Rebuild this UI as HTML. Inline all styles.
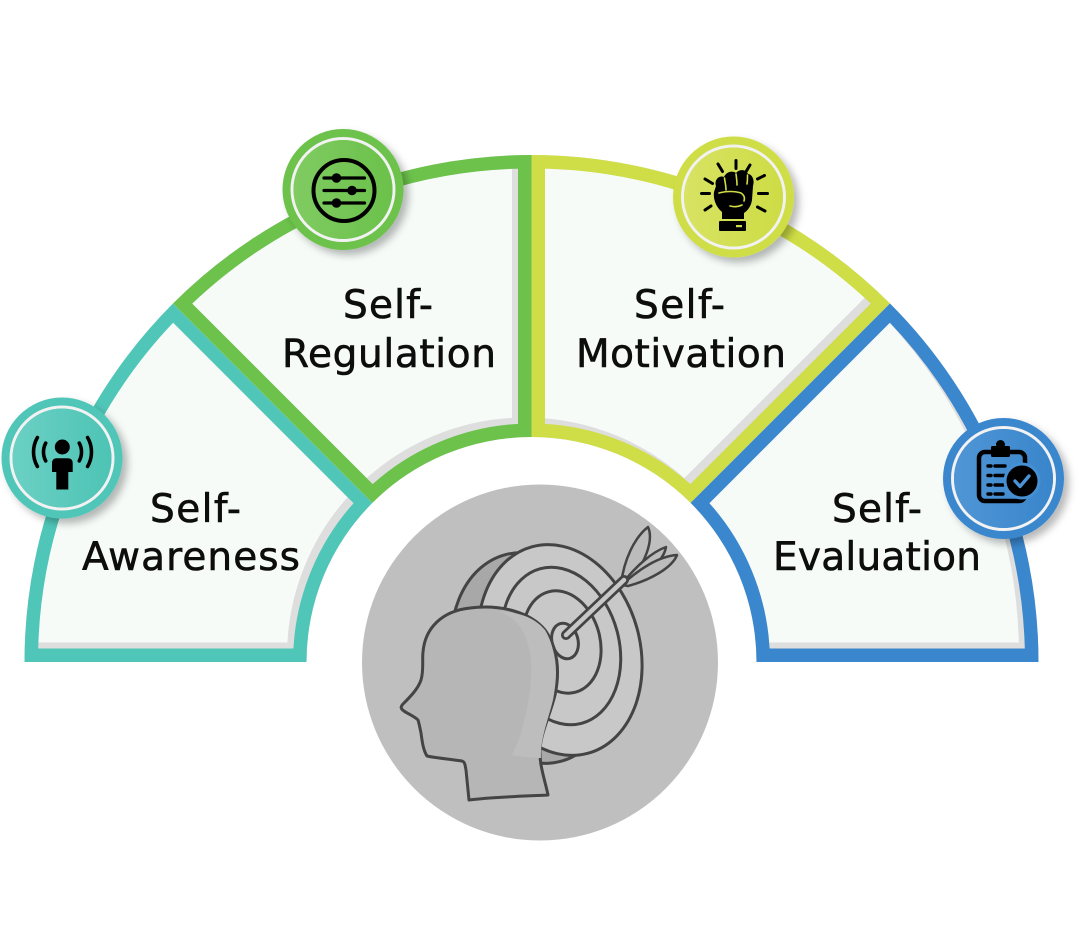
<!DOCTYPE html>
<html><head><meta charset="utf-8"><style>
html,body{margin:0;padding:0;background:#fff;}
svg{display:block}
text{font-family:"DejaVu Sans","Liberation Sans",sans-serif;fill:#0d0d0d;stroke:#0d0d0d;stroke-width:0.6px;}
</style></head><body>
<svg width="1080" height="934" viewBox="0 0 1080 934" xmlns="http://www.w3.org/2000/svg">
<defs>
 <clipPath id="c1"><path d="M 24.5 662 A 507 507 0 0 1 173 303.5 L 372.4 502.9 A 225 225 0 0 0 306.5 662 Z"/></clipPath>
 <clipPath id="c2"><path d="M 173 303.5 A 507 507 0 0 1 531.5 155 L 531.5 437 A 225 225 0 0 0 372.4 502.9 Z"/></clipPath>
 <clipPath id="c3"><path d="M 531.5 155 A 507 507 0 0 1 890 303.5 L 690.6 502.9 A 225 225 0 0 0 531.5 437 Z"/></clipPath>
 <clipPath id="c4"><path d="M 890 303.5 A 507 507 0 0 1 1038.5 662 L 756.5 662 A 225 225 0 0 0 690.6 502.9 Z"/></clipPath>
 <filter id="ds" x="-40%" y="-40%" width="180%" height="180%"><feDropShadow dx="5" dy="5" stdDeviation="4" flood-color="#000" flood-opacity="0.28"/></filter>
 <linearGradient id="gT" x1="0" x2="1"><stop offset="0" stop-color="#6bd0c4"/><stop offset="1" stop-color="#4dc4b5"/></linearGradient>
 <linearGradient id="gG" x1="0" x2="1"><stop offset="0" stop-color="#80cb62"/><stop offset="1" stop-color="#6bc14a"/></linearGradient>
 <linearGradient id="gY" x1="0" x2="1"><stop offset="0" stop-color="#d8e363"/><stop offset="1" stop-color="#cddc45"/></linearGradient>
 <linearGradient id="gB" x1="0" x2="1"><stop offset="0" stop-color="#5096d6"/><stop offset="1" stop-color="#3985cb"/></linearGradient>
</defs>

<!-- Segment 1 teal -->
<g clip-path="url(#c1)">
 <path d="M 24.5 662 A 507 507 0 0 1 173 303.5 L 372.4 502.9 A 225 225 0 0 0 306.5 662 Z" fill="#dedede"/>
 <path transform="translate(-6,-6)" d="M 24.5 662 A 507 507 0 0 1 173 303.5 L 372.4 502.9 A 225 225 0 0 0 306.5 662 Z" fill="#f6fbf8" stroke="#dedede" stroke-width="27"/>
 <path d="M 24.5 662 A 507 507 0 0 1 173 303.5 L 372.4 502.9 A 225 225 0 0 0 306.5 662 Z" fill="none" stroke="#4fc6b7" stroke-width="27"/>
</g>
<!-- Segment 2 green -->
<g clip-path="url(#c2)">
 <path d="M 173 303.5 A 507 507 0 0 1 531.5 155 L 531.5 437 A 225 225 0 0 0 372.4 502.9 Z" fill="#dedede"/>
 <path transform="translate(-6,-6)" d="M 173 303.5 A 507 507 0 0 1 531.5 155 L 531.5 437 A 225 225 0 0 0 372.4 502.9 Z" fill="#f6fbf8" stroke="#dedede" stroke-width="27"/>
 <path d="M 173 303.5 A 507 507 0 0 1 531.5 155 L 531.5 437 A 225 225 0 0 0 372.4 502.9 Z" fill="none" stroke="#6cc24b" stroke-width="27"/>
</g>
<!-- Segment 3 yellow-green -->
<g clip-path="url(#c3)">
 <path d="M 531.5 155 A 507 507 0 0 1 890 303.5 L 690.6 502.9 A 225 225 0 0 0 531.5 437 Z" fill="#dedede"/>
 <path transform="translate(-6,-6)" d="M 531.5 155 A 507 507 0 0 1 890 303.5 L 690.6 502.9 A 225 225 0 0 0 531.5 437 Z" fill="#f6fbf8" stroke="#dedede" stroke-width="27"/>
 <path d="M 531.5 155 A 507 507 0 0 1 890 303.5 L 690.6 502.9 A 225 225 0 0 0 531.5 437 Z" fill="none" stroke="#cfdd46" stroke-width="27"/>
</g>
<!-- Segment 4 blue -->
<g clip-path="url(#c4)">
 <path d="M 890 303.5 A 507 507 0 0 1 1038.5 662 L 756.5 662 A 225 225 0 0 0 690.6 502.9 Z" fill="#dedede"/>
 <path transform="translate(-6,-6)" d="M 890 303.5 A 507 507 0 0 1 1038.5 662 L 756.5 662 A 225 225 0 0 0 690.6 502.9 Z" fill="#f6fbf8" stroke="#dedede" stroke-width="27"/>
 <path d="M 890 303.5 A 507 507 0 0 1 1038.5 662 L 756.5 662 A 225 225 0 0 0 690.6 502.9 Z" fill="none" stroke="#3a87cd" stroke-width="27"/>
</g>

<!-- Labels -->
<text x="195.5" y="522" font-size="39" text-anchor="middle" textLength="91">Self-</text>
<text x="191" y="570" font-size="39" text-anchor="middle" textLength="218">Awareness</text>
<text x="388" y="318" font-size="39" text-anchor="middle" textLength="90">Self-</text>
<text x="389" y="367" font-size="39" text-anchor="middle" textLength="214">Regulation</text>
<text x="679.5" y="318" font-size="39" text-anchor="middle" textLength="91">Self-</text>
<text x="681" y="367" font-size="39" text-anchor="middle" textLength="210">Motivation</text>
<text x="877" y="522" font-size="39" text-anchor="middle" textLength="90">Self-</text>
<text x="877" y="570" font-size="39" text-anchor="middle" textLength="208">Evaluation</text>

<!-- Icon 1: teal -->
<g>
 <circle cx="62" cy="458" r="60.5" fill="#4fc6b7" filter="url(#ds)"/>
 <circle cx="62" cy="458" r="51" fill="none" stroke="#f2f2f2" stroke-width="3"/>
 <circle cx="62" cy="458" r="49.5" fill="url(#gT)"/>
 <circle cx="62.3" cy="447" r="7.5" fill="#000"/>
 <path d="M 52 463 Q 52 458.3 57 458.3 L 67.5 458.3 Q 72.7 458.3 72.7 463 L 72.7 472 L 68.3 472 L 68.3 489.5 L 56.3 489.5 L 56.3 472 L 52 472 Z" fill="#000"/>
 <g fill="none" stroke="#000" stroke-width="3.6" stroke-linecap="round">
  <path d="M 37.4 437.5 A 29 29 0 0 0 37.4 466.5"/>
  <path d="M 45.7 443.1 A 19 19 0 0 0 45.7 460.9"/>
  <path d="M 87.6 437.5 A 29 29 0 0 1 87.6 466.5"/>
  <path d="M 79.3 443.1 A 19 19 0 0 1 79.3 460.9"/>
 </g>
</g>

<!-- Icon 2: green sliders -->
<g>
 <circle cx="343" cy="189.5" r="60.5" fill="#6cc24b" filter="url(#ds)"/>
 <circle cx="343" cy="189.5" r="51" fill="none" stroke="#f2f2f2" stroke-width="3"/>
 <circle cx="343" cy="189.5" r="49.5" fill="url(#gG)"/>
 <circle cx="344" cy="190.5" r="30.5" fill="none" stroke="#000" stroke-width="4"/>
 <g stroke="#000" stroke-width="3.2" stroke-linecap="round">
  <line x1="324" y1="178" x2="364.5" y2="178"/>
  <line x1="324" y1="190.5" x2="364.5" y2="190.5"/>
  <line x1="324" y1="203" x2="364.5" y2="203"/>
 </g>
 <circle cx="336.5" cy="178" r="4.8" fill="#000"/>
 <circle cx="352" cy="190.5" r="4.8" fill="#000"/>
 <circle cx="336.5" cy="203" r="4.8" fill="#000"/>
</g>

<!-- Icon 3: yellow fist -->
<g>
 <circle cx="733.5" cy="197" r="60.5" fill="#cfdd46" filter="url(#ds)"/>
 <circle cx="733.5" cy="197" r="51" fill="none" stroke="#f2f2f2" stroke-width="3"/>
 <circle cx="733.5" cy="197" r="49.5" fill="url(#gY)"/>
 <g stroke="#000" stroke-width="3" stroke-linecap="round">
  <line x1="736" y1="160.5" x2="736" y2="168.5"/>
  <line x1="718" y1="164" x2="722.5" y2="171.5"/>
  <line x1="750" y1="165" x2="745.5" y2="172.5"/>
  <line x1="701.5" y1="193.5" x2="709.5" y2="193.5"/>
  <line x1="758.5" y1="193.5" x2="767.5" y2="193.5"/>
  <line x1="705" y1="179" x2="712.5" y2="183.5"/>
  <line x1="757.5" y1="179" x2="764.5" y2="175.5"/>
  <line x1="705" y1="210" x2="711" y2="206"/>
  <line x1="757.5" y1="207" x2="765" y2="211"/>
 </g>
 <path d="M 716 186 C 714 180, 719 175, 724 177 C 726 172, 732 170, 736 173 C 739 169, 746 169, 748 174 C 752 174, 755 180, 753 186 L 752 200 C 751 207, 747 211, 744 213 L 744 219 L 722 219 L 722 212 C 716 207, 713 199, 714 192 Z" fill="#000"/>
 <g fill="none" stroke="#cfdd46" stroke-width="1.6" stroke-linecap="round">
  <path d="M 724.5 178 C 725 182, 726 186, 726 190"/>
  <path d="M 736 174 C 736.5 178, 737 181, 737 185"/>
  <path d="M 747.5 175 C 747.5 178, 747.5 181, 747 184"/>
  <path d="M 719 193 C 726 191, 735 191, 741 193 C 744 195, 745 198, 744 201"/>
  <path d="M 730 206 C 734 207, 738 207, 742 205"/>
 </g>
 <rect x="719" y="221" width="27" height="10" rx="1" fill="#000"/>
 <rect x="736" y="225" width="6" height="2.2" fill="#cfdd46"/>
</g>

<!-- Icon 4: blue clipboard -->
<g>
 <circle cx="1003.5" cy="478.5" r="60.5" fill="#3a87cd" filter="url(#ds)"/>
 <circle cx="1003.5" cy="478.5" r="51" fill="none" stroke="#f2f2f2" stroke-width="3"/>
 <circle cx="1003.5" cy="478.5" r="49.5" fill="url(#gB)"/>
 <rect x="979" y="452" width="46" height="49" rx="6" fill="none" stroke="#000" stroke-width="4.5"/>
 <rect x="991" y="446" width="19" height="11" rx="1.5" fill="#000"/>
 <circle cx="1000.5" cy="444.5" r="4.5" fill="#000"/>
 <g stroke="#000" stroke-width="3.4" stroke-linecap="round">
  <line x1="988" y1="466" x2="991" y2="466"/><line x1="995" y1="466" x2="1005" y2="466"/>
  <line x1="988" y1="475.5" x2="991" y2="475.5"/><line x1="995" y1="475.5" x2="1005" y2="475.5"/>
  <line x1="988" y1="485" x2="991" y2="485"/><line x1="995" y1="485" x2="1003" y2="485"/>
  <line x1="988" y1="494" x2="991" y2="494"/><line x1="995" y1="494" x2="1003" y2="494"/>
 </g>
 <circle cx="1022" cy="481" r="17" fill="#000" stroke="#4590d3" stroke-width="3"/>
 <polyline points="1015,481 1020,486.5 1029,476" fill="none" stroke="#4a93d5" stroke-width="3.4" stroke-linecap="round" stroke-linejoin="round"/>
</g>

<!-- Center circle -->
<circle cx="540" cy="662.5" r="178" fill="#bfbfbf"/>
<g stroke="#444" stroke-width="3" stroke-linejoin="round">
 <ellipse cx="533" cy="658" rx="80" ry="107" transform="rotate(-15 533 658)" fill="#a8a8a8"/>
 <ellipse cx="560" cy="650" rx="80" ry="107" transform="rotate(-15 560 650)" fill="#c8c8c8"/>
 <ellipse cx="561" cy="646" rx="58" ry="80" transform="rotate(-15 561 646)" fill="#c8c8c8"/>
 <ellipse cx="562" cy="642" rx="38" ry="52" transform="rotate(-15 562 642)" fill="#c8c8c8"/>
 <ellipse cx="565" cy="641" rx="13" ry="18" transform="rotate(-15 565 641)" fill="#c8c8c8"/>
 <path d="M 621 584 C 624 560, 634 538, 648 527 C 654 540, 645 565, 628 582 Z" fill="#bcbcbc" stroke-width="2.5"/>
 <path d="M 622 584 C 636 566, 652 552, 666 547 C 664 560, 648 574, 628 584 Z" fill="#bcbcbc" stroke-width="2.5"/>
 <path d="M 622 585 C 640 568, 660 556, 677 555 C 672 568, 650 580, 628 586 Z" fill="#bcbcbc" stroke-width="2.5"/>
</g>
<line x1="566" y1="635" x2="624" y2="580" stroke="#444" stroke-width="10" stroke-linecap="round"/>
<line x1="566" y1="635" x2="624" y2="580" stroke="#c8c8c8" stroke-width="4.5" stroke-linecap="round"/>
<path d="M 548 795 C 530 796, 490 797, 469 800 L 466 770 C 465 765, 465 762, 462 761 C 450 759, 435 758, 427 756 C 423 750, 422 740, 421 733 C 420 728, 419 723, 418 720 C 414 716, 408 714, 404 711 C 401 709, 400 707, 403 704 C 410 697, 418 689, 421 680 C 424 670, 422 660, 423 652 C 425 628, 442 611, 470 608 C 500 604, 530 612, 545 630 C 558 648, 560 672, 555 695 C 550 715, 542 730, 540 748 C 539 765, 545 780, 548 795 Z" fill="#b6b6b6" stroke="#444" stroke-width="3" stroke-linejoin="round"/>
<path d="M 500 612 C 525 620, 535 650, 530 690 C 527 715, 520 740, 512 755 C 525 757, 535 758, 541 758 C 540 740, 548 720, 553 700 C 558 675, 556 648, 545 630 C 535 618, 520 612, 500 612 Z" fill="#bdbdbd"/>
</svg>
</body></html>
